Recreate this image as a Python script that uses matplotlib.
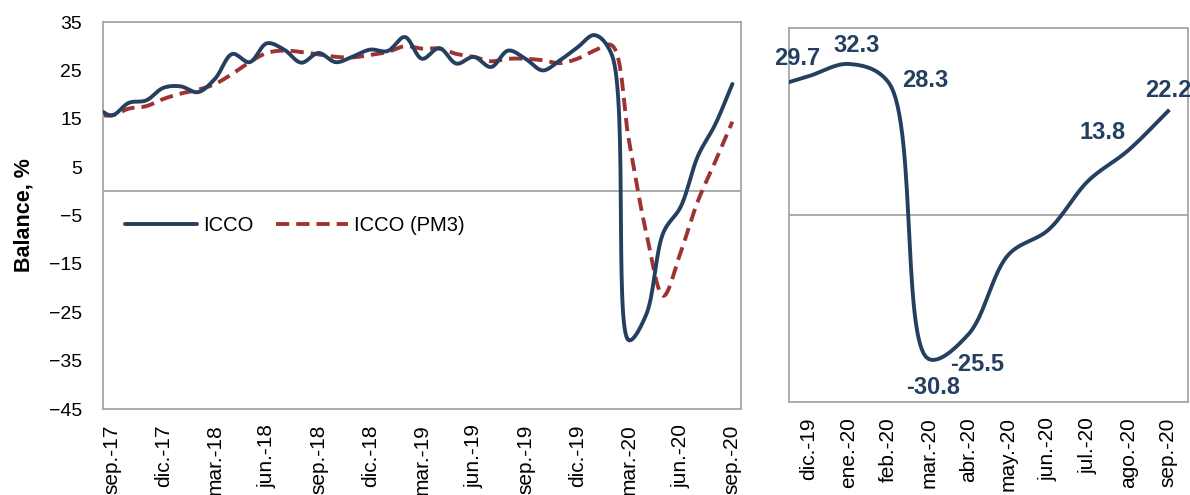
import numpy as np
import matplotlib.pyplot as plt

plt.rcParams['font.family'] = ['Liberation Sans', 'DejaVu Sans']

# Monthly balance, ago.-17 .. sep.-20 (first month is only partly visible)
icco = [17.7, 15.7, 18.3, 18.8, 21.4, 21.7, 20.5, 23.3, 28.4, 26.7, 30.6, 29.3,
        26.6, 28.6, 26.7, 27.9, 29.3, 29.0, 31.9, 27.4, 29.6, 26.4, 27.8, 25.7,
        29.1, 27.4, 25.0, 27.1, 29.7, 32.3, 28.3, -30.8, -25.5, -8.5, -3.2, 7.3,
        13.8, 22.2]
icco_pm3 = [15.9, 15.7, 17.1, 17.6, 19.1, 20.2, 21.0, 22.2, 24.3, 26.7, 28.6, 29.1,
            28.8, 28.3, 27.8, 27.7, 28.2, 28.8, 30.0, 29.5, 29.5, 28.4, 27.8, 26.9,
            27.4, 27.4, 27.1, 26.5, 27.4, 29.1, 30.2, 10.5, -8.5, -21.6, -12.6, -2.0,
            6.1, 14.4]

left_ticks = ['sep.-17', 'dic.-17', 'mar.-18', 'jun.-18', 'sep.-18', 'dic.-18', 'mar.-19',
              'jun.-19', 'sep.-19', 'dic.-19', 'mar.-20', 'jun.-20', 'sep.-20']
right_ticks = ['dic.-19', 'ene.-20', 'feb.-20', 'mar.-20', 'abr.-20', 'may.-20',
               'jun.-20', 'jul.-20', 'ago.-20', 'sep.-20']
labelled = ['29.7', '32.3', '28.3', '-30.8', '-25.5', '13.8', '22.2']

navy = '#253f61'
red = '#9e3432'
grey = '#a6a6a6'


def smooth(ax, x, y, n=30, alpha=0.5):
    # centripetal Catmull-Rom in screen space, close to Excel's smoothed line
    pts = ax.transData.transform(np.column_stack([x, y]))
    pts = np.vstack([2 * pts[0] - pts[1], pts, 2 * pts[-1] - pts[-2]])
    out = []
    for i in range(1, len(pts) - 2):
        p0, p1, p2, p3 = pts[i - 1], pts[i], pts[i + 1], pts[i + 2]
        t0 = 0.0
        t1 = t0 + np.linalg.norm(p1 - p0) ** alpha
        t2 = t1 + np.linalg.norm(p2 - p1) ** alpha
        t3 = t2 + np.linalg.norm(p3 - p2) ** alpha
        t = np.linspace(t1, t2, n, endpoint=False)[:, None]
        a1 = (t1 - t) / (t1 - t0) * p0 + (t - t0) / (t1 - t0) * p1
        a2 = (t2 - t) / (t2 - t1) * p1 + (t - t1) / (t2 - t1) * p2
        a3 = (t3 - t) / (t3 - t2) * p2 + (t - t2) / (t3 - t2) * p3
        b1 = (t2 - t) / (t2 - t0) * a1 + (t - t0) / (t2 - t0) * a2
        b2 = (t3 - t) / (t3 - t1) * a2 + (t - t1) / (t3 - t1) * a3
        out.append((t2 - t) / (t2 - t1) * b1 + (t - t1) / (t2 - t1) * b2)
    out.append(pts[-2][None, :])
    res = ax.transData.inverted().transform(np.vstack(out))
    return res[:, 0], res[:, 1]


fig = plt.figure(figsize=(11.9, 4.95), dpi=100)
ax1 = fig.add_axes([0.0866, 0.1737, 0.5361, 0.7818])
ax2 = fig.add_axes([0.663, 0.1879, 0.3353, 0.7556])

x = np.arange(-1, len(icco) - 1)

# Left panel: full series
ax1.set_xlim(-0.5, 36.5)
ax1.set_ylim(-45, 35)
ax1.axhline(0, color=grey, lw=1.3, zorder=1)
sx, sy = smooth(ax1, x, icco)
ax1.plot(sx, sy, color=navy, lw=2.8, label='ICCO', solid_capstyle='round', zorder=3)
sx, sy = smooth(ax1, x, icco_pm3)
ax1.plot(sx, sy, color=red, lw=2.8, dashes=(3.4, 1.8), label='ICCO (PM3)', zorder=2)
ax1.set_yticks(range(-45, 36, 10))
ax1.set_xticks(range(0, 37, 3))
ax1.set_xticklabels(left_ticks, rotation=90, va='top')
ax1.tick_params(axis='y', length=0, labelsize=14, pad=15)
ax1.tick_params(axis='x', length=0, labelsize=15, pad=11)
ax1.set_ylabel('Balance, %', fontsize=15.5, fontweight='bold')
ax1.yaxis.set_label_coords(-0.107, 0.5)
ax1.legend(loc='center left', bbox_to_anchor=(0.034, 0.475), ncol=2, frameon=False,
           fontsize=14.5, handlelength=3.6, handletextpad=0.3, columnspacing=1.1,
           borderpad=0, borderaxespad=0)

# Right panel: zoom on the last months
xr = np.arange(-1, 10)
yr = icco[-11:]
ax2.set_xlim(-0.5, 9.5)
ax2.set_ylim(-40, 40)
ax2.axhline(0, color=grey, lw=1.3, zorder=1)
sx, sy = smooth(ax2, xr, yr)
ax2.plot(sx, sy, color=navy, lw=2.8, zorder=3)
ax2.set_yticks([])
ax2.set_xticks(range(10))
ax2.set_xticklabels(right_ticks, rotation=90, va='top')
ax2.tick_params(axis='x', length=0, labelsize=15, pad=11)

label_idx = [0, 1, 2, 3, 4, 8, 9]
offsets = [(-12, 18), (8, 18), (37, 2), (5, -29), (9, -30), (-26, 18), (0, 21)]
for i, txt, off in zip(label_idx, labelled, offsets):
    ax2.annotate(txt, (i, yr[i + 1]), xytext=off, textcoords='offset pixels',
                 ha='center', va='center', fontsize=17, fontweight='bold', color=navy)

for ax in (ax1, ax2):
    for s in ax.spines.values():
        s.set_color(grey)
        s.set_linewidth(1.3)

fig.savefig('out.png', dpi=100)
